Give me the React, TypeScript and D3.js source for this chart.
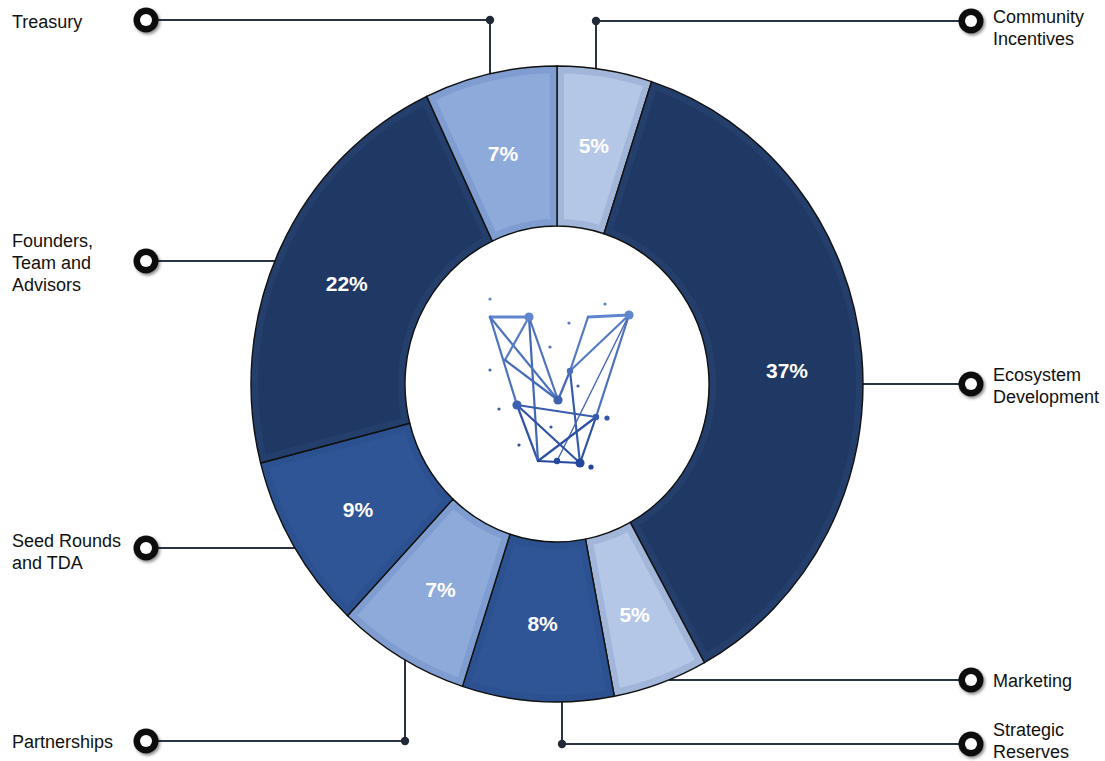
import React from 'react';
import * as d3 from 'd3';

// Token allocation, clockwise from 12 o'clock
const categories = [
  'Community Incentives',
  'Ecosystem Development',
  'Marketing',
  'Strategic Reserves',
  'Partnerships',
  'Seed Rounds and TDA',
  'Founders, Team and Advisors',
  'Treasury',
];
const shares = [5, 37, 5, 8, 7, 9, 22, 7];
const labelLines = [
  ['Community', 'Incentives'],
  ['Ecosystem', 'Development'],
  ['Marketing'],
  ['Strategic', 'Reserves'],
  ['Partnerships'],
  ['Seed Rounds', 'and TDA'],
  ['Founders,', 'Team and', 'Advisors'],
  ['Treasury'],
];

// shade per slice
const tone = d3
  .scaleOrdinal<string, string>()
  .domain(categories)
  .range(['#b4c7e7', '#203864', '#b4c7e7', '#2f5597', '#8eaadb', '#2f5597', '#203864', '#8eaadb']);
const toneEdge = d3
  .scaleOrdinal<string, string>()
  .domain(categories)
  .range(['#a2b6da', '#253f6d', '#a2b6da', '#2c5190', '#7f9dd0', '#2c5190', '#253f6d', '#7f9dd0']);

// callout layout: side, marker y, elbow x (null = straight line), text top y, pct label nudge
const callouts = [
  { side: 'right', my: 21, elbow: 596, ty: 17, nudge: [1, -3] },
  { side: 'right', my: 384, elbow: null, ty: 375, nudge: [2, 9] },
  { side: 'right', my: 680, elbow: null, ty: 681, nudge: [0, 7] },
  { side: 'right', my: 744, elbow: 562, ty: 730, nudge: [0, 2] },
  { side: 'left', my: 741, elbow: 405, ty: 742, nudge: [0, 1] },
  { side: 'left', my: 548, elbow: null, ty: 541, nudge: [-2, 4] },
  { side: 'left', my: 261, elbow: null, ty: 241, nudge: [-3, 1] },
  { side: 'left', my: 20, elbow: 490, ty: 22, nudge: [-4, 2] },
];

const W = 1105;
const H = 761;
const cx = 557;
const cy = 384;
const rOuter = 306;
const rInner = 152;
const sy = 1.039; // the ring is slightly taller than wide
const markerLeft = 146;
const markerRight = 971;
const font = '"Liberation Sans", Arial, Helvetica, sans-serif';

// decorative center logo (relative to logo origin)
const logoNodes: [number, number][] = [
  [0, 0], [39, 0], [98, 0], [139, -2], [80, 54], [68, 83], [27, 88], [106, 100], [48, 144], [67, 144], [90, 146], [15, 43],
];
const logoEdges: [number, number][] = [
  [0, 1], [2, 3], [0, 6], [6, 8], [3, 7], [7, 10], [1, 5], [1, 8], [2, 4], [4, 5], [4, 10], [0, 5], [1, 11], [11, 5],
  [3, 4], [3, 9], [6, 7], [6, 10], [7, 8], [8, 10],
];
const logoBig = [1, 3, 5, 6, 7, 9, 10, 4];
const logoDust: [number, number][] = [
  [0, -18], [115, -13], [79, 6], [60, 30], [0, 53], [88, 69], [9, 92], [61, 110], [29, 128], [117, 101], [101, 150],
];

function edgeXAtY(y: number, side: string) {
  const t = (y - cy) / (rOuter * sy);
  const dx = rOuter * Math.sqrt(Math.max(0, 1 - t * t));
  return side === 'left' ? cx - dx : cx + dx;
}
function edgeYAtX(x: number, y: number) {
  const t = (x - cx) / rOuter;
  const dy = rOuter * sy * Math.sqrt(Math.max(0, 1 - t * t));
  return y < cy ? cy - dy : cy + dy;
}

const logoColor = d3.interpolateRgb('#5f86cc', '#23459a');

export default function App() {
  const pie = d3
    .pie<number>()
    .sort(null)
    .value((d) => d);
  const slices = pie(shares);
  const arc = d3
    .arc<d3.PieArcDatum<number>>()
    .innerRadius(rInner)
    .outerRadius(rOuter);
  const mid = d3
    .arc<d3.PieArcDatum<number>>()
    .innerRadius((rInner + rOuter) / 2)
    .outerRadius((rInner + rOuter) / 2);

  const lx = 490;
  const ly = 317;

  return (
    <svg
      width={W}
      height={H}
      viewBox={`0 0 ${W} ${H}`}
      style={{ position: 'absolute', left: 0, top: 0, background: '#fff' }}
    >
      <defs>
        <filter id="shadow" x="-50%" y="-50%" width="200%" height="200%">
          <feDropShadow dx="1.5" dy="2" stdDeviation="1.6" floodColor="#000" floodOpacity="0.45" />
        </filter>
        {slices.map((s, i) => (
          <clipPath id={`clip${i}`} key={i}>
            <path d={arc(s) || ''} />
          </clipPath>
        ))}
      </defs>

      {/* callout lines */}
      <g stroke="#2a3340" strokeWidth={2} fill="none">
        {callouts.map((c, i) => {
          const mx = c.side === 'left' ? markerLeft : markerRight;
          if (c.elbow === null) {
            const ex = edgeXAtY(c.my, c.side);
            return <line key={i} x1={ex} y1={c.my} x2={mx} y2={c.my} />;
          }
          const ey = edgeYAtX(c.elbow, c.my);
          return (
            <g key={i}>
              <line x1={c.elbow} y1={ey} x2={c.elbow} y2={c.my} />
              <line x1={c.elbow} y1={c.my} x2={mx} y2={c.my} />
            </g>
          );
        })}
      </g>
      {callouts
        .filter((c) => c.elbow !== null)
        .map((c, i) => (
          <circle key={i} cx={c.elbow as number} cy={c.my} r={4.2} fill="#1f2937" />
        ))}

      {/* ring */}
      <g transform={`translate(${cx},${cy}) scale(1,${sy})`}>
        {slices.map((s, i) => (
          <g key={i}>
            <path
              d={arc(s) || ''}
              fill={tone(categories[i])}
              stroke={toneEdge(categories[i])}
              strokeWidth={14}
              clipPath={`url(#clip${i})`}
            />
            <path d={arc(s) || ''} fill="none" stroke="#111" strokeWidth={1.4} />
          </g>
        ))}
      </g>

      {/* percentage labels */}
      {slices.map((s, i) => {
        const [x, y] = mid.centroid(s);
        return (
          <text
            key={i}
            x={cx + x + callouts[i].nudge[0]}
            y={cy + y * sy + callouts[i].nudge[1]}
            textAnchor="middle"
            dominantBaseline="central"
            fill="#fff"
            fontFamily={font}
            fontWeight="bold"
            fontSize={21}
          >
            {`${shares[i]}%`}
          </text>
        );
      })}

      {/* center logo */}
      <g transform={`translate(${lx},${ly})`}>
        <g fill="none" strokeLinecap="round">
          {logoEdges.map(([a, b], i) => (
            <line
              key={i}
              x1={logoNodes[a][0]}
              y1={logoNodes[a][1]}
              x2={logoNodes[b][0]}
              y2={logoNodes[b][1]}
              stroke={logoColor((logoNodes[a][1] + logoNodes[b][1]) / 2 / 150)}
              strokeWidth={i < 2 ? 2.8 : i === 15 ? 1.4 : 2.2}
            />
          ))}
        </g>
        {logoBig.map((n, i) => (
          <circle
            key={i}
            cx={logoNodes[n][0]}
            cy={logoNodes[n][1]}
            r={n === 4 || n === 7 || n === 9 ? 3.2 : 4.6}
            fill={logoColor(logoNodes[n][1] / 150)}
          />
        ))}
        {logoDust.map(([x, y], i) => (
          <circle key={i} cx={x} cy={y} r={i === 10 || i === 9 ? 2.6 : 1.6} fill={logoColor((y + 20) / 170)} />
        ))}
      </g>

      {/* markers and labels */}
      {callouts.map((c, i) => {
        const mx = c.side === 'left' ? markerLeft : markerRight;
        const tx = c.side === 'left' ? 12 : 993;
        return (
          <g key={i}>
            <circle cx={mx} cy={c.my} r={12.5} fill="#111" filter="url(#shadow)" />
            <circle cx={mx} cy={c.my} r={6} fill="#fff" />
            <text fontFamily={font} fontSize={18} fill="#111" textAnchor="start">
              {labelLines[i].map((ln, k) => (
                <tspan key={k} x={tx} y={c.ty + k * 22} dominantBaseline="central">
                  {ln}
                </tspan>
              ))}
            </text>
          </g>
        );
      })}
    </svg>
  );
}
